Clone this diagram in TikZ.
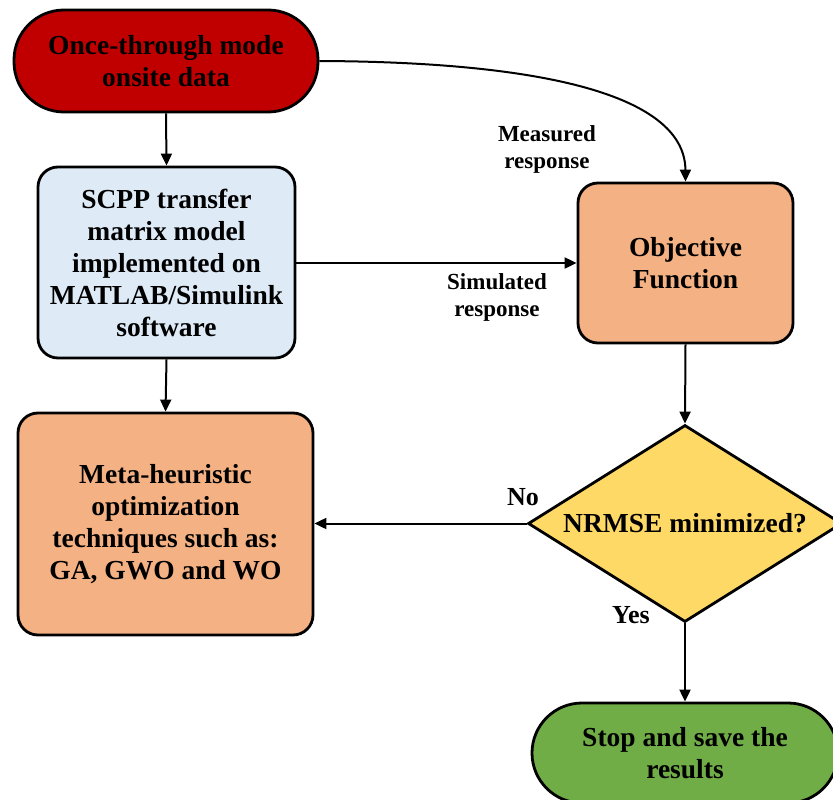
\documentclass[tikz,border=0pt]{standalone}
\usepackage{fontspec}
\setmainfont{Liberation Serif}
\usetikzlibrary{shapes.geometric,arrows.meta}
\definecolor{startred}{HTML}{C00000}
\definecolor{boxblue}{HTML}{DEEBF7}
\definecolor{boxorange}{HTML}{F4B183}
\definecolor{decyellow}{HTML}{FFD966}
\definecolor{stopgreen}{HTML}{70AD47}
\begin{document}
\begin{tikzpicture}[x=1pt,y=-1pt,
  every node/.style={font=\fontsize{27.5}{32}\selectfont\bfseries, align=center},
  term/.style={draw=black, line width=2.8pt, rounded corners=50pt, inner sep=0pt},
  procbox/.style={draw=black, line width=2.8pt, rounded corners=20pt, inner sep=0pt},
  decision/.style={draw=black, line width=2.8pt, diamond, fill=decyellow, inner sep=0pt, aspect=1.5},
  conn/.style={line width=2pt, -{Triangle[length=12pt,width=11pt]}},
  lbl/.style={font=\fontsize{23}{27}\selectfont\bfseries}
]
\useasboundingbox (0,0) rectangle (833,800);
\begin{scope}
\clip (0,0) rectangle (833,800);
\node[term, fill=startred, minimum width=304pt, minimum height=102pt] (start) at (166,61) {Once-through mode\\onsite data};
\node[procbox, fill=boxblue, minimum width=257pt, minimum height=191pt] (model) at (166.5,262.5) {SCPP transfer\\matrix model\\implemented on\\MATLAB/Simulink\\software};
\node[procbox, fill=boxorange, minimum width=295pt, minimum height=222pt] (meta) at (165.5,524) {Meta-heuristic\\optimization\\techniques such as:\\GA, GWO and WO};
\node[procbox, fill=boxorange, minimum width=215pt, minimum height=160pt] (obj) at (685.5,263) {Objective\\Function};
\node[decision, minimum width=314pt, minimum height=197pt] (dec) at (685,523.5) {NRMSE minimized?};
\node[term, fill=stopgreen, minimum width=306pt, minimum height=100pt] (stop) at (685,753) {Stop and save the\\results};
\end{scope}
\draw[conn] (start.south) -- (model.north);
\draw[conn] (model.south) -- (meta.north);
\draw[conn] (model.east |- obj.west) -- (obj.west);
\draw[conn] (start.east) .. controls (560,62) and (685,100) .. (obj.north);
\draw[conn] (obj.south) -- (dec.north);
\draw[conn] (dec.west) -- (meta.east |- dec.west);
\draw[conn] (dec.south) -- (stop.north);
\node[lbl] (meas) at (547,149) {Measured\\response};
\node[lbl] (sim) at (497,297) {Simulated\\response};
\node[lbl, font=\fontsize{26}{30}\selectfont\bfseries] (no) at (523,497) {No};
\node[lbl, font=\fontsize{26}{30}\selectfont\bfseries] (yes) at (631,615) {Yes};
\end{tikzpicture}
\end{document}
